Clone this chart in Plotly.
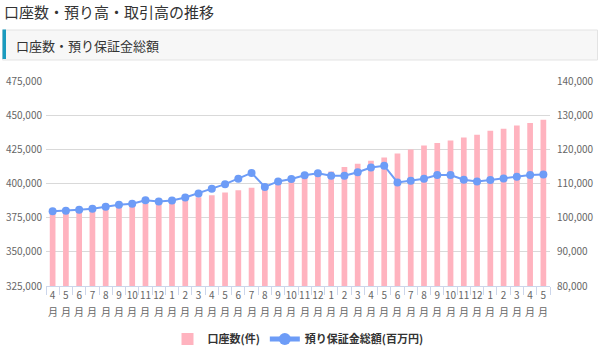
import plotly.graph_objects as go

months = [4,5,6,7,8,9,10,11,12,1,2,3,
          4,5,6,7,8,9,10,11,12,1,2,3,
          4,5,6,7,8,9,10,11,12,1,2,3,
          4,5]
categories = [f"{i}" for i in range(len(months))]
tick_labels = [f"{m}" for m in months]
month_suffix = "月"

accounts = [378600, 378900, 379800, 380500, 381500, 383400, 383900, 385200, 385900, 386600,
            388300, 390000, 391400, 393400, 395100, 396800, 398500, 400400, 402000, 404800,
            406500, 408700, 412100, 414500, 416700, 419100, 422000, 424900, 427800, 429600,
            431500, 433700, 435600, 438600, 440000, 442400, 444200, 446600]

deposits = [101900, 102000, 102300, 102600, 103200, 103800, 104100, 105100, 104700, 105000,
            105900, 107100, 108500, 109800, 111400, 113100, 109000, 110600, 111300, 112400,
            113000, 112300, 112300, 113300, 114700, 115200, 110300, 110800, 111400, 112500,
            112500, 111100, 110600, 111000, 111500, 112000, 112500, 112600]

left_ticks = [325000, 350000, 375000, 400000, 425000, 450000, 475000]
right_ticks = [80000, 90000, 100000, 110000, 120000, 130000, 140000]

FONT = "Noto Sans CJK JP"

fig = go.Figure()
fig.add_trace(go.Bar(
    x=categories, y=accounts, name="口座数(件)",
    marker=dict(color="#ffb3bf", line=dict(width=0)),
    yaxis="y"))
fig.add_trace(go.Scatter(
    x=categories, y=deposits, name="預り保証金総額(百万円)",
    mode="lines+markers",
    line=dict(color="#6d9cf7", width=2),
    marker=dict(color="#6d9cf7", size=8),
    yaxis="y2"))

W, H = 600, 351
L, R, T, B = 46, 50, 81, 65
pw = W - L - R
ph = H - T - B

def px_x(px):
    return (px - L) / pw

def px_y(py):
    return (H - B - py) / ph

shapes = [
    dict(type="rect", xref="paper", yref="paper",
         x0=px_x(2.5), x1=px_x(597.5), y0=px_y(60), y1=px_y(30),
         fillcolor="#f7f7f7", line=dict(color="#e3e3e3", width=1), layer="below"),
    dict(type="rect", xref="paper", yref="paper",
         x0=px_x(2.5), x1=px_x(6), y0=px_y(59), y1=px_y(29.5),
         fillcolor="#1a9bbf", line=dict(width=0), layer="above"),
]

annotations = [
    dict(text="口座数・預り高・取引高の推移", xref="paper", yref="paper",
         x=px_x(2), y=px_y(12), xanchor="left", yanchor="middle", showarrow=False,
         font=dict(family=FONT, size=15, color="#333333")),
    dict(text="口座数・預り保証金総額", xref="paper", yref="paper",
         x=px_x(14), y=px_y(45), xanchor="left", yanchor="middle", showarrow=False,
         font=dict(family=FONT, size=13, color="#333333")),
]
for c in categories:
    annotations.append(dict(text=month_suffix, xref="x", yref="paper", x=c, y=px_y(311),
                            xanchor="center", yanchor="middle", showarrow=False,
                            font=dict(family=FONT, size=10, color="#666666")))

fig.update_layout(
    width=W, height=H,
    margin=dict(l=L, r=R, t=T, b=B, pad=0, autoexpand=False),
    paper_bgcolor="white", plot_bgcolor="white",
    font=dict(family=FONT, size=11, color="#666666"),
    bargap=0.57,
    showlegend=True,
    legend=dict(orientation="h", x=0.5, xanchor="center",
                yref="container", y=(H - 339) / H, yanchor="middle",
                font=dict(family=FONT, size=11, color="#333333", weight="bold"),
                itemsizing="constant", traceorder="normal"),
    xaxis=dict(type="category", tickmode="array", tickvals=categories, ticktext=tick_labels,
               range=[-0.5, len(months) - 0.5], automargin=False,
               showline=True, linecolor="#ccd6eb", linewidth=1,
               ticks="outside", tickson="boundaries", ticklen=8, tickcolor="#ccd6eb",
               showgrid=False, tickfont=dict(size=10, color="#666666"), tickangle=0),
    yaxis=dict(range=[325000, 475000], tickmode="array", tickvals=left_ticks,
               tickformat=",", showgrid=True, gridcolor="#d9d9d9", gridwidth=1,
               zeroline=False, showline=False, ticks="", automargin=False,
               tickfont=dict(size=10, color="#666666"), ticklabelstandoff=3),
    yaxis2=dict(range=[80000, 140000], tickmode="array", tickvals=right_ticks,
                tickformat=",", overlaying="y", side="right", showgrid=False,
                zeroline=False, showline=False, ticks="", automargin=False,
                tickfont=dict(size=10, color="#666666"), ticklabelstandoff=6),
    shapes=shapes, annotations=annotations,
)

fig.write_html("out.html")
